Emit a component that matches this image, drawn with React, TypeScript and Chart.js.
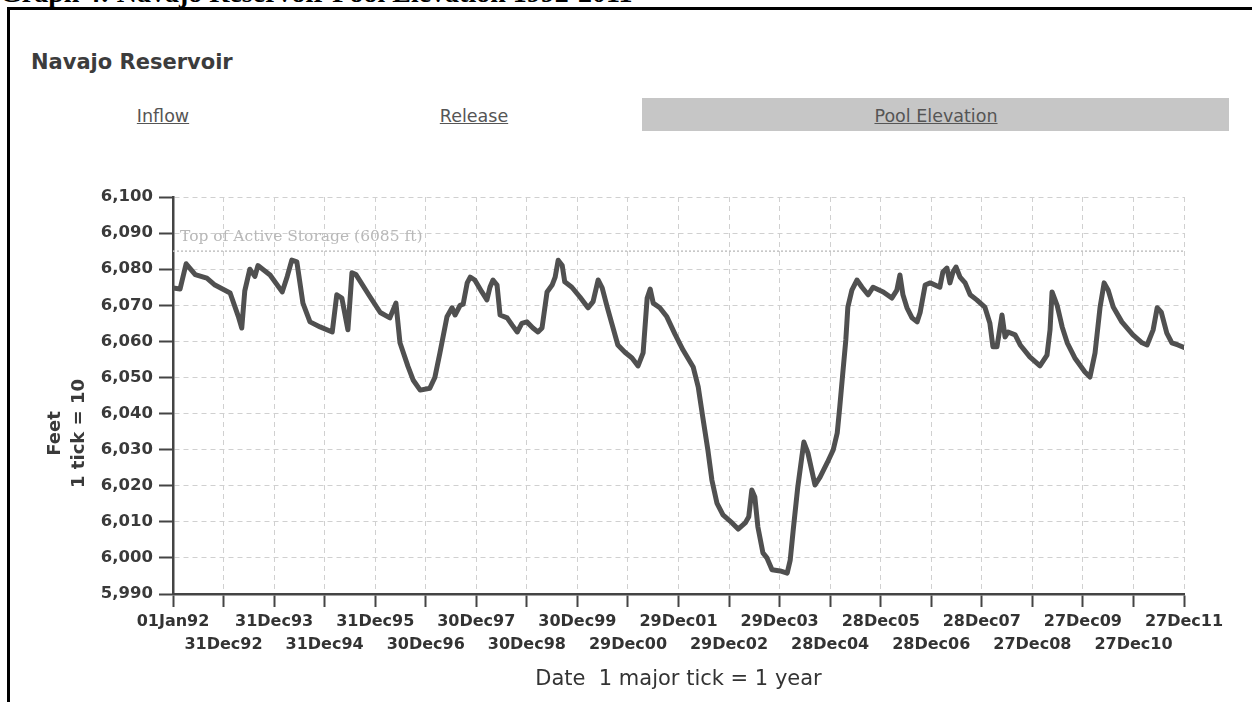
import React, { useEffect, useRef } from "react";
import { Chart, registerables } from "chart.js";

Chart.register(...registerables);

// Years elapsed since 01 Jan 1992
const yearOffsets = [
  0.0, 0.14, 0.26, 0.44, 0.67, 0.83, 1.13, 1.29, 1.36, 1.42,
  1.52, 1.62, 1.68, 1.92, 2.16, 2.26, 2.35, 2.45, 2.57, 2.71,
  2.91, 3.15, 3.24, 3.34, 3.46, 3.54, 3.62, 3.9, 4.1, 4.29,
  4.41, 4.49, 4.65, 4.75, 4.89, 5.08, 5.18, 5.28, 5.42, 5.52,
  5.58, 5.68, 5.74, 5.82, 5.88, 5.97, 6.11, 6.21, 6.27, 6.33,
  6.41, 6.47, 6.61, 6.71, 6.81, 6.9, 7.0, 7.12, 7.22, 7.3,
  7.4, 7.5, 7.56, 7.62, 7.7, 7.75, 7.89, 8.05, 8.21, 8.31,
  8.41, 8.49, 8.59, 8.68, 8.8, 8.94, 9.08, 9.2, 9.3, 9.38,
  9.44, 9.5, 9.63, 9.77, 9.93, 10.09, 10.29, 10.39, 10.48, 10.58,
  10.66, 10.76, 10.88, 11.06, 11.18, 11.32, 11.39, 11.45, 11.51, 11.57,
  11.67, 11.75, 11.85, 12.01, 12.15, 12.21, 12.27, 12.36, 12.44, 12.48,
  12.56, 12.7, 12.8, 12.94, 13.06, 13.14, 13.19, 13.25, 13.31, 13.35,
  13.43, 13.53, 13.63, 13.75, 13.85, 14.05, 14.22, 14.32, 14.38, 14.44,
  14.52, 14.62, 14.72, 14.78, 14.88, 14.98, 15.17, 15.23, 15.31, 15.37,
  15.43, 15.49, 15.57, 15.67, 15.77, 15.9, 16.06, 16.16, 16.22, 16.3,
  16.4, 16.46, 16.52, 16.66, 16.76, 16.95, 17.15, 17.29, 17.35, 17.39,
  17.49, 17.59, 17.69, 17.84, 18.04, 18.14, 18.24, 18.34, 18.42, 18.5,
  18.6, 18.77, 18.99, 19.17, 19.27, 19.39, 19.47, 19.55, 19.66, 19.76,
  19.88, 20.0,
];

// Pool elevation, feet
const poolElevation = [
  6074.8, 6074.5, 6081.5, 6078.5, 6077.5, 6075.6, 6073.4, 6067.0, 6063.7, 6074.0,
  6080.0, 6078.0, 6081.0, 6078.4, 6073.7, 6078.0, 6082.5, 6082.0, 6070.6, 6065.4,
  6064.0, 6062.6, 6072.9, 6072.0, 6063.2, 6079.0, 6078.5, 6072.3, 6068.0, 6066.5,
  6070.6, 6059.6, 6053.0, 6049.3, 6046.5, 6047.0, 6050.0, 6056.8, 6066.8, 6069.3,
  6067.3, 6070.0, 6070.3, 6076.2, 6077.8, 6077.0, 6073.7, 6071.5, 6075.0, 6077.0,
  6075.6, 6067.3, 6066.5, 6064.5, 6062.6, 6065.0, 6065.4, 6063.7, 6062.6, 6063.7,
  6073.7, 6075.6, 6077.8, 6082.5, 6081.0, 6076.5, 6075.0, 6072.3, 6069.3, 6071.0,
  6077.0, 6074.8, 6069.5, 6065.0, 6059.0, 6057.0, 6055.4, 6053.2, 6056.8, 6072.0,
  6074.5, 6070.6, 6069.3, 6066.8, 6062.0, 6057.6, 6052.9, 6047.4, 6039.0, 6030.0,
  6021.6, 6015.2, 6011.9, 6009.7, 6008.0, 6009.7, 6011.4, 6018.8, 6016.9, 6008.6,
  6001.4, 6000.0, 5996.7, 5996.4, 5995.8, 5999.4, 6007.8, 6019.7, 6028.0, 6032.1,
  6029.1, 6020.2, 6022.4, 6026.3, 6029.9, 6034.6, 6041.8, 6051.2, 6060.4, 6069.5,
  6074.2, 6077.0, 6075.0, 6072.9, 6075.0, 6073.7, 6072.0, 6074.2, 6078.4, 6072.9,
  6069.3, 6066.5, 6065.4, 6068.0, 6075.6, 6076.2, 6075.0, 6079.2, 6080.3, 6076.2,
  6079.2, 6080.6, 6077.8, 6076.2, 6072.9, 6071.5, 6069.5, 6065.0, 6058.5, 6058.5,
  6067.3, 6061.2, 6062.6, 6061.8, 6059.0, 6055.7, 6053.2, 6056.2, 6063.2, 6073.7,
  6070.0, 6064.0, 6059.6, 6055.4, 6051.5, 6050.1, 6056.8, 6069.5, 6076.2, 6074.2,
  6069.5, 6065.4, 6061.8, 6059.6, 6059.0, 6063.2, 6069.3, 6068.1, 6062.3, 6059.6,
  6059.0, 6058.3,
];

const dateTickLabels = [
  "01Jan92", "31Dec92", "31Dec93", "31Dec94", "31Dec95", "30Dec96", "30Dec97",
  "30Dec98", "30Dec99", "29Dec00", "29Dec01", "29Dec02", "29Dec03", "28Dec04",
  "28Dec05", "28Dec06", "28Dec07", "27Dec08", "27Dec09", "27Dec10", "27Dec11",
];

const yMin = 5990;
const yMax = 6100;
const yStep = 10;
const topOfActiveStorage = 6085;
const topOfActiveStorageLabel = "Top of Active Storage (6085 ft)";
const yTitleLines = ["Feet", "1 tick = 10"];
const xTitle = "Date  1 major tick = 1 year";
const tabLabels = ["Inflow", "Release", "Pool Elevation"];

const overlayPlugin = {
  id: "navajoOverlay",
  beforeDatasetsDraw(chart: any) {
    const { ctx, chartArea, scales } = chart;
    const y = scales.y.getPixelForValue(topOfActiveStorage);
    ctx.save();
    ctx.strokeStyle = "#c2c2c2";
    ctx.lineWidth = 1.5;
    ctx.setLineDash([2, 2]);
    ctx.beginPath();
    ctx.moveTo(chartArea.left, y);
    ctx.lineTo(chartArea.right, y);
    ctx.stroke();
    ctx.setLineDash([]);
    ctx.fillStyle = "#b8b8b8";
    ctx.font = '15.5px "DejaVu Serif"';
    ctx.textBaseline = "alphabetic";
    ctx.textAlign = "left";
    ctx.fillText(topOfActiveStorageLabel, chartArea.left + 7, y - 10);
    ctx.restore();
  },
  afterDraw(chart: any) {
    const { ctx, chartArea } = chart;
    const cy = (chartArea.top + chartArea.bottom) / 2 + 38;
    const xs = [chartArea.left - 118, chartArea.left - 94];
    ctx.save();
    ctx.fillStyle = "#3a3a3a";
    ctx.font = 'bold 18px "DejaVu Sans"';
    ctx.textAlign = "center";
    ctx.textBaseline = "middle";
    yTitleLines.forEach((line, i) => {
      ctx.save();
      ctx.translate(xs[i], cy);
      ctx.rotate(-Math.PI / 2);
      ctx.fillText(line, 0, 0);
      ctx.restore();
    });
    ctx.restore();
  },
};

export default function App() {
  const canvasRef = useRef<HTMLCanvasElement>(null);

  useEffect(() => {
    if (!canvasRef.current) return;
    const chart = new Chart(canvasRef.current, {
      type: "line",
      data: {
        datasets: [
          {
            label: "Pool Elevation",
            data: yearOffsets.map((t, i) => ({ x: t, y: poolElevation[i] })),
            borderColor: "#505050",
            borderWidth: 5,
            pointRadius: 0,
            tension: 0,
            borderJoinStyle: "round",
            borderCapStyle: "round",
            fill: false,
          },
        ],
      },
      options: {
        animation: false,
        responsive: false,
        layout: { padding: { left: 0, right: 56, top: 27, bottom: 0 } },
        plugins: {
          legend: { display: false },
          tooltip: { enabled: false },
          title: { display: false },
        },
        scales: {
          x: {
            type: "linear",
            min: 0,
            max: dateTickLabels.length - 1,
            afterFit(scale: any) {
              scale.height = 106;
            },
            ticks: {
              stepSize: 1,
              autoSkip: false,
              maxRotation: 0,
              minRotation: 0,
              padding: 3,
              color: "#333",
              font: { family: '"DejaVu Sans"', size: 16, weight: "bold", lineHeight: 1.45 },
              callback: (v: any) => {
                const i = Math.round(Number(v));
                const label = dateTickLabels[i] ?? "";
                return i % 2 === 0 ? [label] : ["", label];
              },
            },
            grid: {
              color: "#d0d0d0",
              lineWidth: 1,
              tickLength: 13,
              tickColor: "#444",
              tickWidth: 2,
            },
            border: { color: "#444", width: 2.5, dash: [5, 4] },
            title: {
              display: true,
              text: xTitle,
              color: "#333",
              font: { family: '"DejaVu Sans"', size: 21 },
              padding: { top: 0, bottom: 8 },
            },
          },
          y: {
            min: yMin,
            max: yMax,
            afterFit(scale: any) {
              scale.width = 153;
            },
            ticks: {
              stepSize: yStep,
              padding: 6,
              color: "#3a3a3a",
              font: { family: '"DejaVu Sans"', size: 16.5, weight: "bold" },
              callback: (v: any) => Number(v).toLocaleString("en-US"),
            },
            grid: {
              color: "#d0d0d0",
              lineWidth: 1,
              tickLength: 14,
              tickColor: "#444",
              tickWidth: 2,
            },
            border: { color: "#444", width: 2.5, dash: [5, 4] },
          },
        },
      },
      plugins: [overlayPlugin],
    } as any);
    return () => chart.destroy();
  }, []);

  const tabText: React.CSSProperties = {
    position: "absolute",
    top: 116,
    transform: "translate(-50%, -50%)",
    font: '17.5px "DejaVu Sans"',
    color: "#555",
    textDecoration: "underline",
    whiteSpace: "nowrap",
  };

  return (
    <div
      style={{
        position: "fixed",
        left: 0,
        top: 0,
        width: 1252,
        height: 702,
        background: "#fff",
        overflow: "hidden",
      }}
    >
      <div
        style={{
          position: "absolute",
          left: 0,
          top: -23,
          font: 'bold 28px "Liberation Serif"',
          color: "#000",
          whiteSpace: "nowrap",
        }}
      >
        Graph 4: Navajo Reservoir Pool Elevation 1992-2011
      </div>
      <div style={{ position: "absolute", left: 7, top: 7, right: 0, height: 3, background: "#000" }} />
      <div style={{ position: "absolute", left: 7, top: 7, width: 3, bottom: 0, background: "#000" }} />
      <div
        style={{
          position: "absolute",
          left: 31,
          top: 50,
          font: 'bold 21px "DejaVu Sans"',
          color: "#3c3c3c",
          whiteSpace: "nowrap",
        }}
      >
        Navajo Reservoir
      </div>
      <div
        style={{
          position: "absolute",
          left: 642,
          top: 98,
          width: 587,
          height: 33,
          background: "#c6c6c6",
        }}
      />
      <div style={{ ...tabText, left: 163 }}>{tabLabels[0]}</div>
      <div style={{ ...tabText, left: 474 }}>{tabLabels[1]}</div>
      <div style={{ ...tabText, left: 936 }}>{tabLabels[2]}</div>
      <div style={{ position: "absolute", left: 20, top: 170, width: 1220, height: 530 }}>
        <canvas ref={canvasRef} width={1220} height={530} style={{ display: "block" }} />
      </div>
    </div>
  );
}
